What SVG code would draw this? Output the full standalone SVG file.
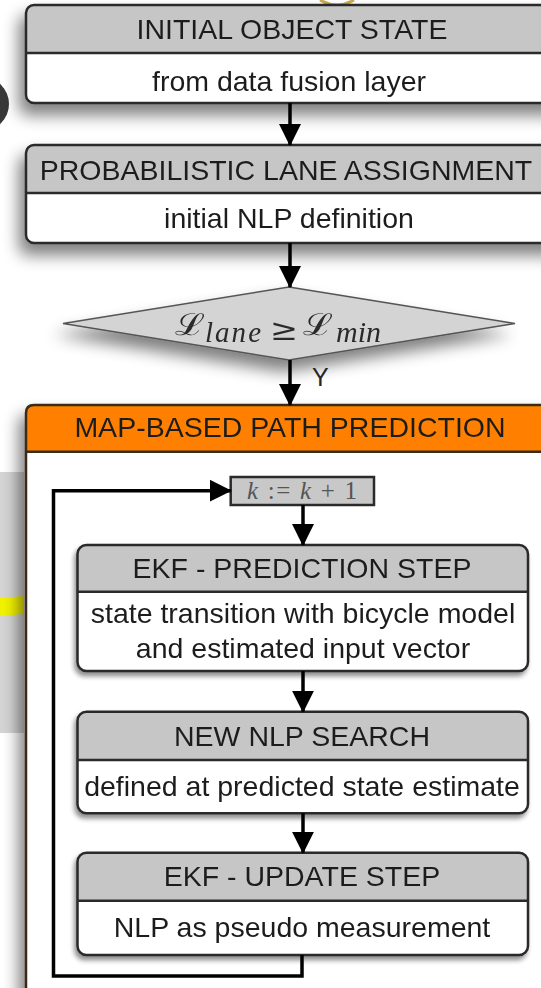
<svg xmlns="http://www.w3.org/2000/svg" width="541" height="988" viewBox="0 0 541 988">
<style>
.hdr{fill:#c6c6c6}
.body{fill:#ffffff}
.out{fill:none;stroke:#2a2a2a;stroke-width:2.5}
.div{stroke:#2a2a2a;stroke-width:2.5}
.t{font-family:"Liberation Sans",Arial,sans-serif;font-size:28.5px;fill:#1e1e1e;text-anchor:middle}
.con{fill:none;stroke:#000;stroke-width:3.5}
.m{font-family:"Liberation Serif","DejaVu Serif",serif;font-style:italic;fill:#2a2a2a}
.cal{font-family:"DejaVu Serif",serif;fill:#2a2a2a}
</style>
<defs>
<filter id="sh" x="-20%" y="-30%" width="140%" height="180%">
<feGaussianBlur in="SourceAlpha" stdDeviation="8"/>
<feOffset dx="-6" dy="11" result="b"/>
<feComponentTransfer><feFuncA type="linear" slope="0.5"/></feComponentTransfer>
<feMerge><feMergeNode/><feMergeNode in="SourceGraphic"/></feMerge>
</filter>
<filter id="sh2" x="-10%" y="-20%" width="120%" height="150%">
<feGaussianBlur in="SourceAlpha" stdDeviation="2.5"/>
<feOffset dx="-2" dy="4" result="b"/>
<feComponentTransfer><feFuncA type="linear" slope="0.45"/></feComponentTransfer>
<feMerge><feMergeNode/><feMergeNode in="SourceGraphic"/></feMerge>
</filter>
<marker id="ah" markerUnits="userSpaceOnUse" markerWidth="22" markerHeight="22" viewBox="0 0 20 20" refX="19" refY="10" orient="auto">
<path d="M0,0 L20,10 L0,20 Z" fill="#000"/>
</marker>
</defs>
<rect width="541" height="988" fill="#ffffff"/>
<circle cx="-18" cy="104" r="27" fill="#383838"/>
<path d="M320,0 Q337,10 354,0" fill="none" stroke="#c9a850" stroke-width="3"/>
<rect x="0" y="472" width="24" height="261" fill="#d4d4d4"/>
<path d="M0,598 L24,596 L24,614 L0,616 Z" fill="#f2f200"/>

<g id="initial-object-state" filter="url(#sh)">
<rect x="26" y="5" width="560" height="98" rx="8" class="body"/>
<path d="M26,53 V13 Q26,5 34,5 H586 V53 Z" class="hdr"/>
<line x1="26" y1="53" x2="586" y2="53" class="div"/>
<rect x="26" y="5" width="560" height="98" rx="8" class="out"/>
<text x="292" y="39" class="t">INITIAL OBJECT STATE</text>
<text x="289" y="91" class="t">from data fusion layer</text>
</g>

<g id="lane-assignment" filter="url(#sh)">
<rect x="26" y="145" width="560" height="98" rx="8" class="body"/>
<path d="M26,193 V153 Q26,145 34,145 H586 V193 Z" class="hdr"/>
<line x1="26" y1="193" x2="586" y2="193" class="div"/>
<rect x="26" y="145" width="560" height="98" rx="8" class="out"/>
<text x="286" y="180" class="t">PROBABILISTIC LANE ASSIGNMENT</text>
<text x="289" y="228" class="t">initial NLP definition</text>
</g>

<g id="decision" filter="url(#sh)">
<polygon points="289,287 515,323.5 289,360 63,323.5" fill="#d4d4d4" stroke="#555" stroke-width="1.5"/>
<text x="175" y="335" class="cal" font-size="30" textLength="30" lengthAdjust="spacingAndGlyphs">ℒ</text>
<text x="205" y="342" class="m" font-size="29" textLength="56" lengthAdjust="spacing">lane</text>
<text x="270" y="340" class="cal" font-size="30" textLength="28" lengthAdjust="spacingAndGlyphs">≥</text>
<text x="303" y="335" class="cal" font-size="30" textLength="30" lengthAdjust="spacingAndGlyphs">ℒ</text>
<text x="336" y="342" class="m" font-size="30">min</text>
</g>

<g id="path-prediction" filter="url(#sh)">
<path d="M26,1000 V413 Q26,405 34,405 H586 V1000 Z" class="body"/>
<path d="M26,451.7 V413 Q26,405 34,405 H586 V451.7 Z" fill="#ff8000"/>
<line x1="26" y1="451.7" x2="586" y2="451.7" stroke="#3a2a18" stroke-width="2.5"/>
<path d="M26,1000 V413 Q26,405 34,405 H586" fill="none" stroke="#3a2a18" stroke-width="2.5"/>
<text x="290" y="437" class="t" fill="#2a1a0a">MAP-BASED PATH PREDICTION</text>
</g>

<g id="k-increment">
<rect x="230.7" y="477" width="143.3" height="28" fill="#c8c8c8" stroke="#2a2a2a" stroke-width="2.5"/>
<text x="247" y="499" font-family="'Liberation Serif','DejaVu Serif',serif" font-size="25" fill="#555" textLength="110" lengthAdjust="spacing"><tspan font-style="italic">k</tspan> := <tspan font-style="italic">k</tspan> + 1</text>
</g>

<g id="ekf-prediction" filter="url(#sh2)">
<rect x="77.5" y="545" width="450.5" height="126" rx="9" class="body"/>
<path d="M77.5,591.7 V554 Q77.5,545 86.5,545 H519 Q528,545 528,554 V591.7 Z" class="hdr"/>
<line x1="77.5" y1="591.7" x2="528" y2="591.7" class="div"/>
<rect x="77.5" y="545" width="450.5" height="126" rx="9" class="out"/>
<text x="302" y="578" class="t">EKF - PREDICTION STEP</text>
<text x="303" y="623" class="t">state transition with bicycle model</text>
<text x="303" y="658" class="t">and estimated input vector</text>
</g>

<g id="nlp-search" filter="url(#sh2)">
<rect x="77.5" y="711.7" width="450.5" height="101.6" rx="9" class="body"/>
<path d="M77.5,760 V720.7 Q77.5,711.7 86.5,711.7 H519 Q528,711.7 528,720.7 V760 Z" class="hdr"/>
<line x1="77.5" y1="760" x2="528" y2="760" class="div"/>
<rect x="77.5" y="711.7" width="450.5" height="101.6" rx="9" class="out"/>
<text x="302" y="746" class="t">NEW NLP SEARCH</text>
<text x="302" y="796" class="t">defined at predicted state estimate</text>
</g>

<g id="ekf-update" filter="url(#sh2)">
<rect x="77.5" y="852.7" width="450.5" height="102.3" rx="9" class="body"/>
<path d="M77.5,900.7 V861.7 Q77.5,852.7 86.5,852.7 H519 Q528,852.7 528,861.7 V900.7 Z" class="hdr"/>
<line x1="77.5" y1="900.7" x2="528" y2="900.7" class="div"/>
<rect x="77.5" y="852.7" width="450.5" height="102.3" rx="9" class="out"/>
<text x="302" y="886" class="t">EKF - UPDATE STEP</text>
<text x="302" y="937" class="t">NLP as pseudo measurement</text>
</g>

<g id="connectors">
<line x1="290" y1="103" x2="290" y2="145" class="con" marker-end="url(#ah)"/>
<line x1="290" y1="243" x2="290" y2="287" class="con" marker-end="url(#ah)"/>
<line x1="290" y1="360" x2="290" y2="405" class="con" marker-end="url(#ah)"/>
<text x="312" y="386" font-family="'Liberation Sans',Arial,sans-serif" font-size="25" fill="#262626">Y</text>
<line x1="303" y1="505" x2="303" y2="545" class="con" marker-end="url(#ah)"/>
<line x1="303" y1="671" x2="303" y2="711.7" class="con" marker-end="url(#ah)"/>
<line x1="303" y1="813.3" x2="303" y2="852.7" class="con" marker-end="url(#ah)"/>
<path d="M302,955 V976 H53.5 V490.7 H230.7" class="con" marker-end="url(#ah)"/>
</g>
</svg>
